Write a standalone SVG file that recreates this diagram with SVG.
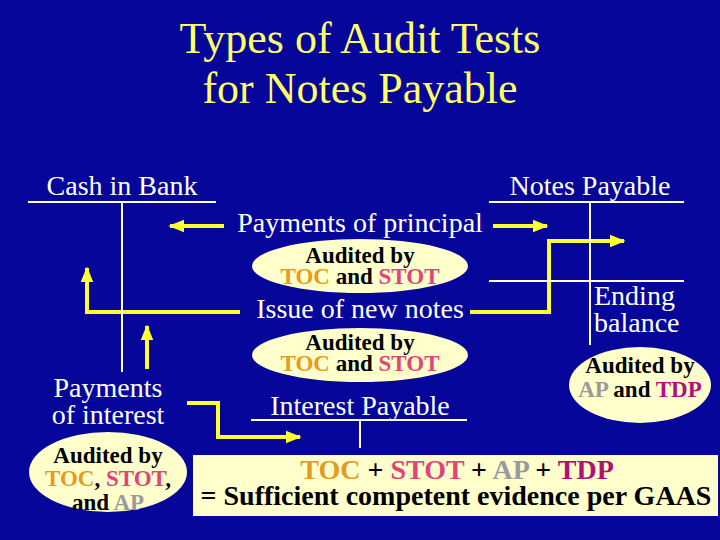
<svg xmlns="http://www.w3.org/2000/svg" width="720" height="540" viewBox="0 0 720 540">
<defs>
<marker id="ah" viewBox="0 0 10 10" refX="9" refY="5" markerWidth="4" markerHeight="4" orient="auto" markerUnits="strokeWidth">
<path d="M0,1 L10,5 L0,9 Z" fill="#ffff33"/>
</marker>
</defs>
<rect width="720" height="540" fill="#06069a"/>
<g id="title">
<text font-family="Liberation Serif" font-size="44" fill="#ffff66" text-anchor="middle" x="360" y="53">Types of Audit Tests</text>
<text font-family="Liberation Serif" font-size="44" fill="#ffff66" text-anchor="middle" x="360" y="103">for Notes Payable</text>
</g>
<g id="connectors" stroke="#ffff33" stroke-width="4" fill="none">
<path marker-end="url(#ah)" d="M224,226 L170,226"/>
<path marker-end="url(#ah)" d="M493,226 L547,226"/>
<path marker-end="url(#ah)" d="M470,312 L549,312 L549,241 L624,241"/>
<path marker-end="url(#ah)" d="M240,312 L87,312 L87,268"/>
<path marker-end="url(#ah)" d="M147,369 L147,326"/>
<path marker-end="url(#ah)" d="M187,403 L218,403 L218,437 L300,437"/>
</g>
<g id="cash-in-bank">
<text font-family="Liberation Serif" font-size="28" fill="#ffffff" text-anchor="middle" x="122" y="195">Cash in Bank</text>
<path stroke="#ffffff" stroke-width="2" fill="none" d="M28,202 H216 M122,202 V372"/>
</g>
<g id="notes-payable">
<text font-family="Liberation Serif" font-size="28" fill="#ffffff" text-anchor="middle" x="590" y="195">Notes Payable</text>
<path stroke="#ffffff" stroke-width="2" fill="none" d="M489,202 H684 M489,281 H684 M590,202 V345"/>
<text font-family="Liberation Serif" font-size="28" fill="#ffffff" x="594" y="305">Ending</text>
<text font-family="Liberation Serif" font-size="28" fill="#ffffff" x="594" y="332">balance</text>
</g>
<g id="payments-of-principal">
<text font-family="Liberation Serif" font-size="28" fill="#ffffff" text-anchor="middle" x="360" y="232">Payments of principal</text>
</g>
<g id="audit-principal">
<ellipse fill="#ffffcc" cx="360" cy="266" rx="108" ry="27"/>
<text font-family="Liberation Serif" font-size="23" font-weight="bold" fill="#000000" text-anchor="middle" x="360" y="263">Audited by</text>
<text font-family="Liberation Serif" font-size="23" font-weight="bold" fill="#000000" text-anchor="middle" x="360" y="284"><tspan fill="#e69a1e">TOC</tspan> and <tspan fill="#e0447a">STOT</tspan></text>
</g>
<g id="issue-of-new-notes">
<text font-family="Liberation Serif" font-size="28" fill="#ffffff" text-anchor="middle" x="360" y="318">Issue of new notes</text>
</g>
<g id="audit-issue">
<ellipse fill="#ffffcc" cx="360" cy="355" rx="108" ry="27"/>
<text font-family="Liberation Serif" font-size="23" font-weight="bold" fill="#000000" text-anchor="middle" x="360" y="350">Audited by</text>
<text font-family="Liberation Serif" font-size="23" font-weight="bold" fill="#000000" text-anchor="middle" x="360" y="371"><tspan fill="#e69a1e">TOC</tspan> and <tspan fill="#e0447a">STOT</tspan></text>
</g>
<g id="payments-of-interest">
<text font-family="Liberation Serif" font-size="28" fill="#ffffff" text-anchor="middle" x="108" y="397">Payments</text>
<text font-family="Liberation Serif" font-size="28" fill="#ffffff" text-anchor="middle" x="108" y="424">of interest</text>
</g>
<g id="audit-interest">
<ellipse fill="#ffffcc" cx="108" cy="472" rx="79" ry="40"/>
<text font-family="Liberation Serif" font-size="23" font-weight="bold" fill="#000000" text-anchor="middle" x="108" y="463">Audited by</text>
<text font-family="Liberation Serif" font-size="23" font-weight="bold" fill="#000000" text-anchor="middle" x="108" y="486"><tspan fill="#e69a1e">TOC</tspan>, <tspan fill="#e0447a">STOT</tspan>,</text>
<text font-family="Liberation Serif" font-size="23" font-weight="bold" fill="#000000" text-anchor="middle" x="108" y="510">and <tspan fill="#9a9a9a">AP</tspan></text>
</g>
<g id="interest-payable">
<text font-family="Liberation Serif" font-size="28" fill="#ffffff" text-anchor="middle" x="360" y="415">Interest Payable</text>
<path stroke="#ffffff" stroke-width="2" fill="none" d="M251,420 H467 M360,420 V448"/>
</g>
<g id="audit-ending">
<ellipse fill="#ffffcc" cx="640" cy="385" rx="71" ry="38"/>
<text font-family="Liberation Serif" font-size="23" font-weight="bold" fill="#000000" text-anchor="middle" x="640" y="373">Audited by</text>
<text font-family="Liberation Serif" font-size="23" font-weight="bold" fill="#000000" text-anchor="middle" x="640" y="397"><tspan fill="#9a9a9a">AP</tspan> and <tspan fill="#b0107a">TDP</tspan></text>
</g>
<g id="summary">
<rect x="193" y="455" width="525" height="61" fill="#ffffcc"/>
<text font-family="Liberation Serif" font-size="28" font-weight="bold" fill="#000000" text-anchor="middle" x="457" y="479"><tspan fill="#e69a1e">TOC</tspan> + <tspan fill="#e0447a">STOT</tspan> + <tspan fill="#9a9a9a">AP</tspan> + <tspan fill="#b0107a">TDP</tspan></text>
<text font-family="Liberation Serif" font-size="28" font-weight="bold" fill="#000000" text-anchor="middle" x="456" y="505">= Sufficient competent evidence per GAAS</text>
</g>
</svg>
